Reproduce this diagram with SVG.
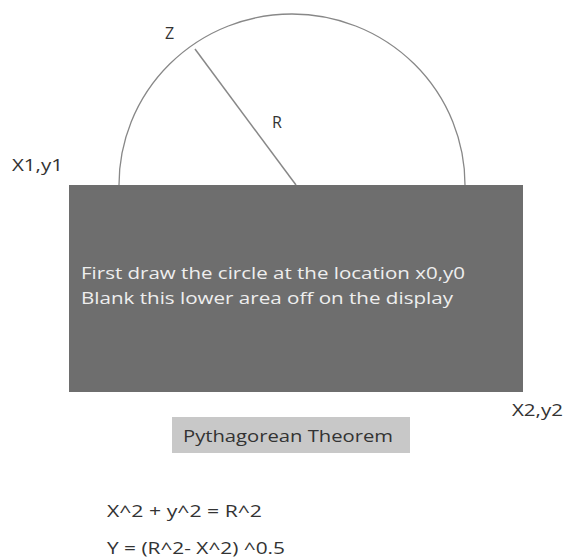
<svg xmlns="http://www.w3.org/2000/svg" width="564" height="560" viewBox="0 0 564 560">
<style>
.t{font-family:"Open Sans","Liberation Sans",sans-serif;fill:#333;font-size:16px}
.w{font-family:"Open Sans","Liberation Sans",sans-serif;fill:#eee;font-size:15.5px}
</style>
<rect width="564" height="560" fill="#fff"/>
<g id="semicircle">
<path d="M119,185 A173,171 0 0 1 465,185" fill="none" stroke="#888" stroke-width="1.3"/>
</g>
<g id="connectors">
<line x1="195" y1="49" x2="296" y2="185" stroke="#888" stroke-width="1.5"/>
</g>
<g id="labels">
<text class="t" x="165" y="39">Z</text>
<text class="t" x="272" y="128">R</text>
<text class="t" x="12" y="171" textLength="51" lengthAdjust="spacingAndGlyphs">X1,y1</text>
<text class="t" x="512" y="416" textLength="51" lengthAdjust="spacingAndGlyphs">X2,y2</text>
</g>
<g id="blank-area">
<rect x="69" y="185" width="454" height="207" fill="#6e6e6e"/>
<text class="w" x="81" y="279" textLength="384" lengthAdjust="spacingAndGlyphs">First draw the circle at the location x0,y0</text>
<text class="w" x="81" y="304" textLength="372" lengthAdjust="spacingAndGlyphs">Blank this lower area off on the display</text>
</g>
<g id="pythagorean">
<rect x="172" y="417" width="238" height="36" fill="#c8c8c8"/>
<text class="t" x="183" y="442" font-size="16.5" textLength="210" lengthAdjust="spacingAndGlyphs">Pythagorean Theorem</text>
</g>
<g id="formulas">
<text class="t" x="107" y="517" textLength="155" lengthAdjust="spacingAndGlyphs">X^2 + y^2 =  R^2</text>
<text class="t" x="107" y="554" textLength="178" lengthAdjust="spacingAndGlyphs">Y = (R^2- X^2) ^0.5</text>
</g>
</svg>
